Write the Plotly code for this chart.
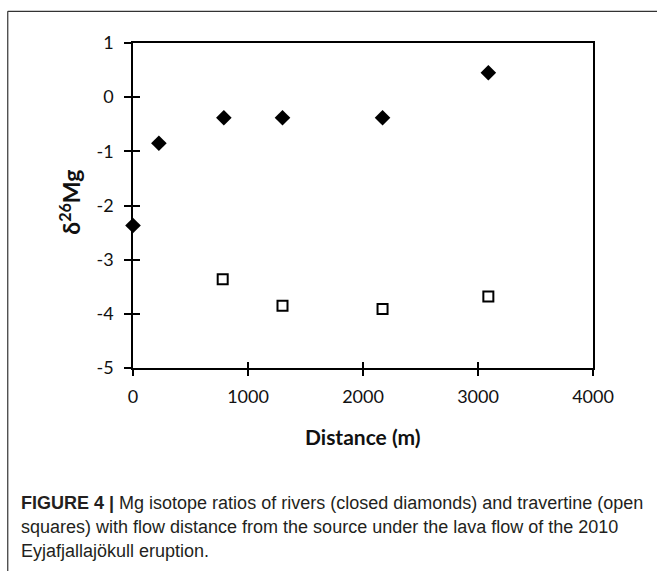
import plotly.graph_objects as go

# Data
river_distance = [0, 225, 790, 1300, 2170, 3090]
river_d26mg = [-2.37, -0.85, -0.38, -0.38, -0.38, 0.45]
trav_distance = [780, 1300, 2170, 3090]
trav_d26mg = [-3.36, -3.85, -3.91, -3.68]

x_ticks = [0, 1000, 2000, 3000, 4000]
x_tick_labels = ["0", "1000", "2000", "3000", "4000"]
y_ticks = [1, 0, -1, -2, -3, -4, -5]
y_tick_labels = ["1", "0", "-1", "-2", "-3", "-4", "-5"]

caption_lines = [
    "<b>FIGURE 4 |</b> Mg isotope ratios of rivers (closed diamonds) and travertine (open",
    "squares) with flow distance from the source under the lava flow of the 2010",
    "Eyjafjallajökull eruption.",
]

W, H = 657, 571
L, R, T, B = 133.3, 593.5, 42.7, 368.3
pw, ph = R - L, B - T


def px(x):
    return (x - L) / pw


def py(y):
    return (B - y) / ph


tick_font = dict(family="Lato, Carlito, sans-serif", size=18, color="#111")

fig = go.Figure()
fig.add_trace(go.Scatter(
    x=river_distance, y=river_d26mg, mode="markers", name="Rivers",
    marker=dict(symbol="diamond", size=12, color="black", line=dict(width=0)),
    cliponaxis=False,
))
fig.add_trace(go.Scatter(
    x=trav_distance, y=trav_d26mg, mode="markers", name="Travertine",
    marker=dict(symbol="square-open", size=10, color="black", line=dict(width=2)),
    cliponaxis=False,
))

axis_common = dict(showgrid=False, zeroline=False, linecolor="black", linewidth=1.5,
                   tickcolor="black", tickwidth=1.5)

fig.update_layout(
    width=W, height=H,
    margin=dict(l=L, r=W - R, t=T, b=H - B, pad=0),
    paper_bgcolor="white", plot_bgcolor="white",
    showlegend=False,
    xaxis=dict(range=[0, 4000], tickvals=x_ticks, ticktext=x_tick_labels,
               ticks="outside", ticklen=6,
               mirror=True, showline=True, tickfont=tick_font, ticklabelstandoff=6,
               **axis_common),
    yaxis=dict(range=[-5, 1], tickvals=y_ticks, ticktext=y_tick_labels,
               ticks="outside", ticklen=7,
               mirror=True, showline=True, tickfont=tick_font, ticklabelstandoff=7,
               **axis_common),
    xaxis2=dict(range=[0, 4000], tickvals=x_ticks, ticks="inside", ticklen=6,
                overlaying="x", side="bottom", showticklabels=False, showline=False,
                **axis_common),
    yaxis2=dict(range=[-5, 1], tickvals=y_ticks, ticks="inside", ticklen=7,
                overlaying="y", side="left", showticklabels=False, showline=False,
                **axis_common),
)
# invisible trace to activate the inner-tick axes
fig.add_trace(go.Scatter(x=[None], y=[None], xaxis="x2", yaxis="y2", showlegend=False,
                         hoverinfo="skip"))

# axis titles
fig.add_annotation(text="<b>Distance (m)</b>", xref="paper", yref="paper",
                   x=px(363.4), y=py(437), xanchor="center", yanchor="middle",
                   showarrow=False,
                   font=dict(family="Lato, Carlito, sans-serif", size=21, color="#111"))
fig.add_annotation(text="<b>δ<sup>26</sup>Mg</b>", xref="paper", yref="paper",
                   x=px(70), y=py(202), xanchor="center", yanchor="middle",
                   textangle=-90, showarrow=False,
                   font=dict(family="Lato, Carlito, sans-serif", size=23, color="#111"))

# caption
for i, line in enumerate(caption_lines):
    fig.add_annotation(text=line, xref="paper", yref="paper",
                       x=px(19), y=py(504 + 24 * i), xanchor="left", yanchor="middle",
                       align="left", showarrow=False,
                       font=dict(family="Liberation Sans, Arial, sans-serif", size=18,
                                 color="#231f20"))

# outer frame (top and left border of the figure panel)
fig.add_shape(type="line", xref="paper", yref="paper", x0=px(8), x1=px(700),
              y0=py(11), y1=py(11), line=dict(color="#333", width=1.2))
fig.add_shape(type="line", xref="paper", yref="paper", x0=px(8), x1=px(8),
              y0=py(11), y1=py(600), line=dict(color="#333", width=1.2))

fig.write_html("out.html")
